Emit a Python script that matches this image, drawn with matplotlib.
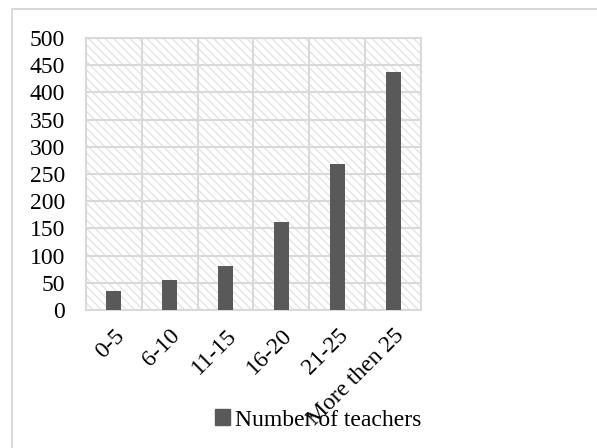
import matplotlib
matplotlib.use("Agg")
import matplotlib.pyplot as plt
from matplotlib.patches import Rectangle, Patch
from matplotlib.lines import Line2D
from matplotlib.transforms import ScaledTranslation

categories = ["0-5", "6-10", "11-15", "16-20", "21-25", "More then 25"]
teachers = [35, 55, 81, 162, 268, 438]
series_name = "Number of teachers"
yticks = [0, 50, 100, 150, 200, 250, 300, 350, 400, 450, 500]

plt.rcParams['font.family'] = ['Liberation Serif', 'DejaVu Serif']
W, H = 597, 448
FS = 17
fig = plt.figure(figsize=(W/100, H/100), dpi=100)
ax = fig.add_axes([86/W, 1-310/H, (421-86)/W, (310-38)/H])

grid_c = '#d9d9d9'
bar_c = '#595959'

# hatched background
ax.add_patch(Rectangle((0, 0), 1, 1, transform=ax.transAxes, fill=False,
                       hatch='\\\\\\\\', edgecolor='#e4e4e4', linewidth=0, zorder=0))

x = list(range(len(categories)))
ax.bar(x, teachers, width=0.27, color=bar_c, zorder=3)

ax.set_xlim(-0.5, len(categories)-0.5)
ax.set_ylim(0, 500)
ax.set_yticks(yticks)
ax.set_xticks(x)
ax.set_xticklabels(categories, rotation=45, ha='right', rotation_mode='anchor')
shift = ScaledTranslation(-6/100, 0, fig.dpi_scale_trans)
for lab in ax.get_xticklabels():
    lab.set_transform(lab.get_transform() + shift)
for b in [i - 0.5 for i in range(len(categories)+1)]:
    ax.axvline(b, color=grid_c, lw=1.5, zorder=1)
for t in yticks:
    ax.axhline(t, color=grid_c, lw=1.5, zorder=1)
for s in ax.spines.values():
    s.set_color(grid_c)
    s.set_linewidth(1.5)
ax.tick_params(axis='y', length=0, pad=15, labelsize=FS)
ax.tick_params(axis='x', length=0, pad=11, labelsize=FS)

fig.legend(handles=[Patch(color=bar_c, label=series_name)], loc='center',
           bbox_to_anchor=(318/W, 1-420/H), frameon=False, fontsize=FS,
           handlelength=0.65, handleheight=0.65, handletextpad=0.2,
           borderpad=0, borderaxespad=0)

# outer border (top and left)
fig.add_artist(Line2D([12/W, 12/W, 1], [0, 1-9/H, 1-9/H], transform=fig.transFigure,
                      color=grid_c, lw=1.5))

fig.savefig("out.png", dpi=100)
